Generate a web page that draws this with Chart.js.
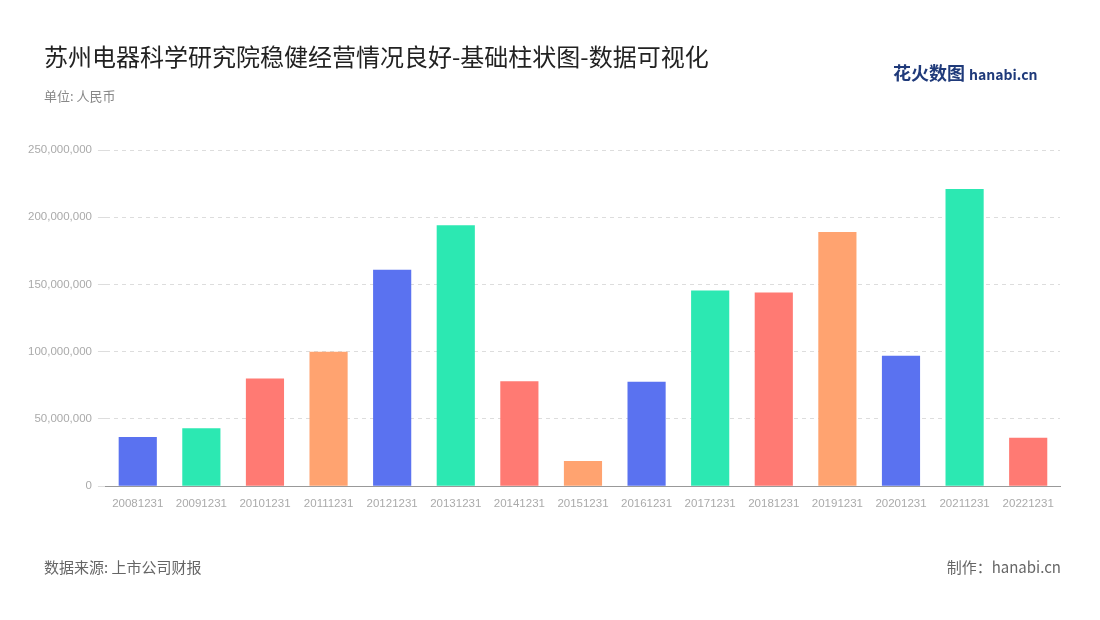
<!DOCTYPE html>
<html><head><meta charset="utf-8">
<script src="https://cdn.jsdelivr.net/npm/chart.js@4"></script>
<style>
body{margin:0;width:1100px;height:620px;background:#fff;font-family:"Noto Sans CJK SC","Noto Sans",sans-serif;position:relative;overflow:hidden}
#wrap{position:absolute;left:0;top:0;width:1100px;height:620px}
.t{position:absolute;white-space:nowrap}
</style></head><body>
<div id="wrap"><canvas id="c"></canvas></div>
<div class="t" style="left:44px;top:38px;font-size:24px;color:#222">苏州电器科学研究院稳健经营情况良好-基础柱状图-数据可视化</div>
<div class="t" style="left:44px;top:86px;font-size:13px;color:#888">单位: 人民币</div>
<div class="t" style="left:893px;top:59px;font-size:18px;font-weight:bold;color:#1f3a7a">花火数图 <span style="font-size:14px">hanabi.cn</span></div>
<div class="t" style="left:44px;top:556px;font-size:15px;color:#666">数据来源: 上市公司财报</div>
<div class="t" style="right:39px;top:556px;font-size:15px;color:#666">制作：hanabi.cn</div>
<script>
const categories = ['20081231','20091231','20101231','20111231','20121231','20131231','20141231','20151231','20161231','20171231','20181231','20191231','20201231','20211231','20221231'];
const values = [36600000,43000000,80000000,100000000,161000000,194000000,78000000,18700000,77600000,145500000,144000000,189000000,97000000,221000000,36000000];
const palette = ['#5A72F0','#2CE8B2','#FF7A73','#FFA370'];

new Chart(document.getElementById('c'), {
  type: 'bar',
  data: { labels: categories, datasets: [{
    data: values,
    backgroundColor: values.map((v, i) => palette[i % 4]),
    barPercentage: 0.6, categoryPercentage: 1
  }]},
  options: {
    responsive: true, maintainAspectRatio: false, animation: false,
    layout: { padding: { left: 22, right: 40, top: 150, bottom: 106 } },
    plugins: { legend: { display: false }, tooltip: { enabled: false } },
    scales: {
      x: {
        grid: { display: false },
        border: { color: '#999' },
        ticks: { color: '#aaa', font: { size: 11.5 }, maxRotation: 0, autoSkip: false }
      },
      y: {
        min: 0, max: 250000000,
        ticks: { stepSize: 50000000, color: '#aaa', font: { size: 11.5 }, padding: 6,
          callback: v => v.toLocaleString('en-US') },
        grid: { color: '#ddd' },
        border: { display: false, dash: [4, 4] }
      }
    }
  }
});
</script>
</body></html>
